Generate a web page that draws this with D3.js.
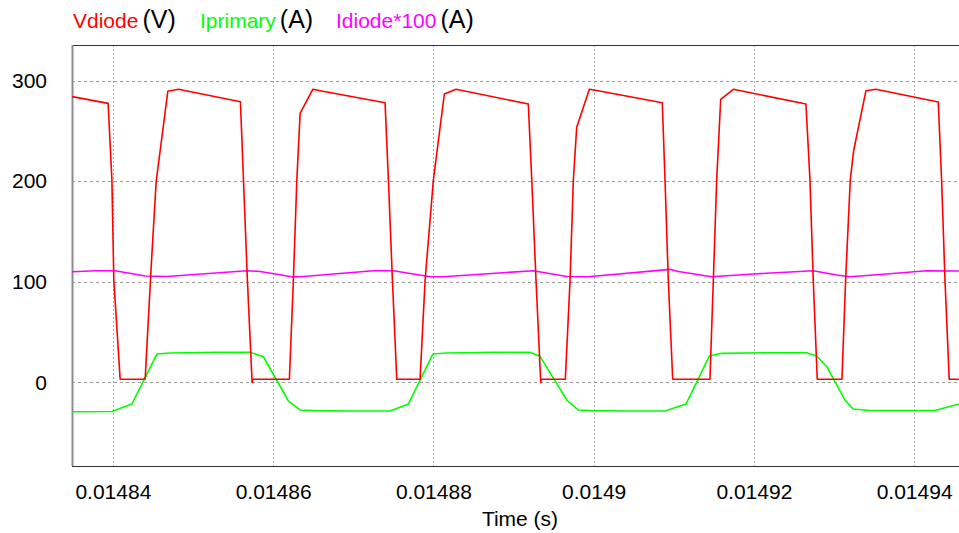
<!DOCTYPE html>
<html>
<head>
<meta charset="utf-8">
<script src="https://cdn.jsdelivr.net/npm/d3@7"></script>
<style>
    body { margin: 0; background: #fff; }
    svg { display: block; font-family: "Liberation Sans", Arial, sans-serif; }
</style>
</head>
<body>
<div id="chart"></div>
<script>
// Time samples (s) and values for each trace
const vdiodeTime = [0.01483492, 0.01483941, 0.01483988, 0.01484012, 0.01484091, 0.01484403, 0.01484478, 0.01484540,
    0.01484686, 0.01484819, 0.01485592, 0.01485630, 0.01485679, 0.01485738, 0.01485744, 0.01486203, 0.01486253,
    0.01486296, 0.01486337, 0.01486495, 0.01486587, 0.01487397, 0.01487439, 0.01487489, 0.01487543, 0.01487834,
    0.01487897, 0.01488000, 0.01488137, 0.01488283, 0.01489185, 0.01489228, 0.01489281, 0.01489340, 0.01489346,
    0.01489647, 0.01489706, 0.01489747, 0.01489789, 0.01489947, 0.01490005, 0.01490857, 0.01490891, 0.01490932,
    0.01490987, 0.01491452, 0.01491494, 0.01491536, 0.01491586, 0.01491743, 0.01492650, 0.01492700, 0.01492741,
    0.01492791, 0.01493099, 0.01493145, 0.01493203, 0.01493245, 0.01493399, 0.01493523, 0.01494301, 0.01494343,
    0.01494385, 0.01494438, 0.01494597];
const vdiode = [284, 277.3, 201.1, 101.7, 3, 3, 114.6, 199.1,
    289.4, 291.3, 278.9, 201.1, 101.7, -0.4, 3, 3, 101.7,
    201.1, 267.4, 291.3, 289.9, 277.9, 201.1, 101.7, 3, 3,
    101.7, 201.1, 286.6, 291.3, 276.6, 201.1, 101.7, -0.4, 3,
    3, 101.7, 201.1, 253.5, 291.3, 290.6, 277.9, 201.1, 101.7,
    3, 3, 101.7, 201.1, 281.3, 291.3, 276.6, 201.1, 101.7,
    3, 3, 101.7, 201.1, 230.2, 289.9, 291.3, 278.6, 201.1,
    101.7, 3, 3];

const iprimaryTime = [0.01483492, 0.01483988, 0.01484237, 0.01484549, 0.01484715, 0.01485298, 0.01485713, 0.01485879,
    0.01486191, 0.01486337, 0.01486503, 0.01486961, 0.01487460, 0.01487688, 0.01487993, 0.01488167, 0.01488749,
    0.01489206, 0.01489331, 0.01489665, 0.01489806, 0.01489955, 0.01490392, 0.01490891, 0.01491153, 0.01491444,
    0.01491598, 0.01492201, 0.01492659, 0.01492784, 0.01492913, 0.01493137, 0.01493237, 0.01493449, 0.01494260,
    0.01494560];
const iprimary = [-29.2, -29.0, -21.6, 28.1, 29.1, 29.8, 29.8, 25.4,
    -18.6, -27.5, -28.2, -28.5, -28.5, -21.6, 28.1, 29.1, 29.8,
    29.8, 25.8, -17.6, -27.5, -28.2, -28.5, -28.5, -21.6, 26.1,
    28.8, 29.4, 29.4, 26.1, 15.2, -17.6, -26.5, -28.0, -28.0,
    -21.6];

const idiodeTime = [0.01483492, 0.01483800, 0.01484029, 0.01484403, 0.01484674, 0.01485672, 0.01485838, 0.01486233,
    0.01486337, 0.01487251, 0.01487501, 0.01487959, 0.01488125, 0.01489248, 0.01489665, 0.01489934, 0.01490953,
    0.01491057, 0.01491474, 0.01491993, 0.01492741, 0.01493033, 0.01493199, 0.01493657, 0.01494156, 0.01494559];
const idiode100 = [109.9, 110.9, 110.9, 105.7, 105.2, 110.9, 110.1, 105.0,
    105.0, 110.9, 110.9, 105.0, 105.0, 110.9, 105.2, 105.0, 112.3,
    110.1, 105.0, 107.7, 110.9, 106.6, 105.0, 107.7, 110.9, 110.6];

const xTicks = [0.01484, 0.01486, 0.01488, 0.0149, 0.01492, 0.01494];
const yTicks = [0, 100, 200, 300];
const xDomain = [0.0148349, 0.0149456];
const yDomain = [-83.2, 335.3];

const legendNames = ["Vdiode", "Iprimary", "Idiode*100"];
const legendUnits = ["(V)", "(A)", "(A)"];
const colors = ["#ff0000", "#00ff00", "#ff00ff"];

const width = 959;
const height = 533;
const margin = { top: 45, right: 0, bottom: 67, left: 72 };

const svg = d3.select("#chart")
    .append("svg")
    .attr("width", width)
    .attr("height", height);

const x = d3.scaleLinear()
    .domain(xDomain)
    .range([margin.left, width - margin.right]);

const y = d3.scaleLinear()
    .domain(yDomain)
    .range([height - margin.bottom, margin.top]);

// clip so traces stop at the plot edges
svg.append("clipPath")
    .attr("id", "plot-clip")
    .append("rect")
    .attr("x", margin.left)
    .attr("y", margin.top)
    .attr("width", width - margin.left - margin.right)
    .attr("height", height - margin.top - margin.bottom);

// dashed grid
svg.append("g")
    .selectAll("line")
    .data(yTicks)
    .enter()
    .append("line")
    .attr("x1", margin.left)
    .attr("x2", width)
    .attr("y1", d => Math.round(y(d)) + 0.5)
    .attr("y2", d => Math.round(y(d)) + 0.5)
    .attr("stroke", "#999")
    .attr("stroke-dasharray", "3,3");

svg.append("g")
    .selectAll("line")
    .data(xTicks)
    .enter()
    .append("line")
    .attr("x1", d => Math.round(x(d)) + 0.5)
    .attr("x2", d => Math.round(x(d)) + 0.5)
    .attr("y1", margin.top)
    .attr("y2", height - margin.bottom)
    .attr("stroke", "#aaa")
    .attr("stroke-dasharray", "2,2");

// frame: top and bottom dark, left gray
svg.append("line")
    .attr("x1", margin.left).attr("x2", width)
    .attr("y1", margin.top + 0.5).attr("y2", margin.top + 0.5)
    .attr("stroke", "#333");
svg.append("line")
    .attr("x1", margin.left).attr("x2", width)
    .attr("y1", height - margin.bottom + 0.5).attr("y2", height - margin.bottom + 0.5)
    .attr("stroke", "#333");
svg.append("line")
    .attr("x1", margin.left + 0.5).attr("x2", margin.left + 0.5)
    .attr("y1", margin.top).attr("y2", height - margin.bottom)
    .attr("stroke", "#8c8c8c")
    .attr("stroke-width", 2);

// axes (labels only, grid above draws the lines)
const xAxis = svg.append("g")
    .attr("transform", `translate(0, ${height - margin.bottom})`)
    .call(d3.axisBottom(x).tickValues(xTicks).tickSize(0).tickPadding(18).tickFormat(d => String(d)));
xAxis.select(".domain").remove();
xAxis.selectAll("text")
    .attr("font-size", 21)
    .attr("font-family", "Liberation Sans, Arial, sans-serif")
    .attr("fill", "#000");

const yAxis = svg.append("g")
    .attr("transform", `translate(${margin.left}, 0)`)
    .call(d3.axisLeft(y).tickValues(yTicks).tickSize(0).tickPadding(25));
yAxis.select(".domain").remove();
yAxis.selectAll("text")
    .attr("font-size", 21)
    .attr("font-family", "Liberation Sans, Arial, sans-serif")
    .attr("fill", "#000");

svg.append("text")
    .attr("x", 520)
    .attr("y", 526)
    .attr("text-anchor", "middle")
    .attr("font-size", 21)
    .attr("fill", "#000")
    .text("Time (s)");

// traces
const series = [
    { t: idiodeTime, v: idiode100, color: colors[2] },
    { t: iprimaryTime, v: iprimary, color: colors[1] },
    { t: vdiodeTime, v: vdiode, color: colors[0] }
];

const line = d3.line()
    .x(d => x(d[0]))
    .y(d => y(d[1]));

svg.append("g")
    .attr("clip-path", "url(#plot-clip)")
    .selectAll("path")
    .data(series)
    .enter()
    .append("path")
    .attr("d", s => line(d3.zip(s.t, s.v)))
    .attr("fill", "none")
    .attr("stroke", s => s.color)
    .attr("stroke-width", 1.6)
    .attr("stroke-linejoin", "round");

// legend at the top: coloured name followed by black unit
const legendX = [73, 200, 336];
legendNames.forEach((name, i) => {
    const t = svg.append("text")
        .attr("x", legendX[i])
        .attr("y", 27.5);
    t.append("tspan")
        .attr("font-size", 21)
        .attr("fill", colors[i])
        .text(name);
    t.append("tspan")
        .attr("dx", 4)
        .attr("font-size", 25)
        .attr("fill", "#000")
        .text(legendUnits[i]);
});
</script>
</body>
</html>
